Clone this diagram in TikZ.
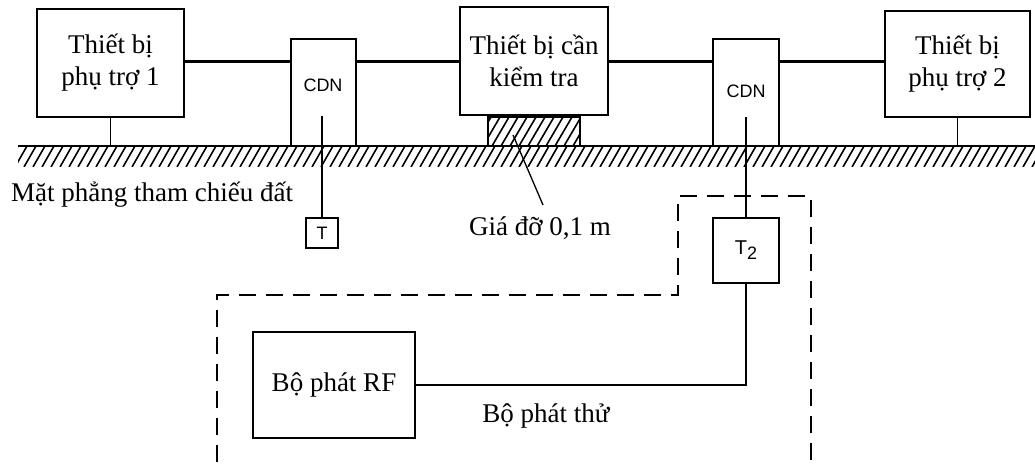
\documentclass[tikz,border=0pt]{standalone}
\usepackage{fontspec}
\setmainfont{Liberation Serif}
\newfontfamily\sansf{Liberation Sans}
\begin{document}
\begin{tikzpicture}[x=1pt,y=-1pt,
  box/.style={draw, line width=1.3pt, inner sep=0pt, align=center, font=\fontsize{27}{32}\selectfont},
  plainbox/.style={draw, line width=1.3pt, inner sep=0pt},
  sanslbl/.style={inner sep=0pt, font=\sansf\fontsize{18}{18}\selectfont},
  lbl/.style={inner sep=0pt, font=\fontsize{27}{32}\selectfont},
  wire/.style={line width=3pt},
  thin/.style={line width=1.3pt},
  hatch/.style={line width=1.6pt},
  dashline/.style={line width=1.5pt, dash pattern=on 17pt off 10pt}]
\useasboundingbox (0,0) rectangle (1035,470);
\fill[white] (0,0) rectangle (1035,470);
% ground hatching
\begin{scope}
  \clip (18,146) rectangle (1035,167);
  \foreach \i in {0,...,118} \draw[hatch] ({18+9*\i-12},167) -- ({18+9*\i},146);
\end{scope}
\coordinate (gl) at (18,146);
\coordinate (gr) at (1035,146);
\draw[line width=1.5pt] (gl) -- (gr);
% support block hatching
\begin{scope}
  \clip (488,117) rectangle (580,146);
  \foreach \i in {0,...,13} \draw[hatch] ({486+9*\i-12},146) -- ({486+9*\i+5},117);
\end{scope}
\node[plainbox, minimum width=92pt, minimum height=29pt] (sup) at (534,131.5) {};
% boxes
\node[box, minimum width=147pt, minimum height=108pt, fill=white] (aux1) at (110.5,63) {Thiết bị\\phụ trợ 1};
\node[plainbox, minimum width=65pt, minimum height=107pt] (cdn1) at (323.5,92.5) {};
\node[sanslbl] (cdn1t) at (323,85) {CDN};
\node[box, minimum width=148pt, minimum height=108pt] (dut) at (534,61) {Thiết bị cần\\kiểm tra};
\node[plainbox, minimum width=66pt, minimum height=107pt] (cdn2) at (746,92.5) {};
\node[sanslbl] (cdn2t) at (746,91) {CDN};
\node[box, minimum width=145pt, minimum height=106pt] (aux2) at (957.5,64) {Thiết bị\\phụ trợ 2};
\node[plainbox, minimum width=32pt, minimum height=30pt, font=\sansf\fontsize{18}{18}\selectfont] (t1) at (322,233) {T};
\node[plainbox, minimum width=66pt, minimum height=65pt, font=\sansf\fontsize{20}{20}\selectfont] (t2) at (746,250.5) {T\raisebox{-5pt}{\fontsize{18}{18}\selectfont 2}};
\node[box, minimum width=162pt, minimum height=106pt] (rf) at (334,385) {Bộ phát RF};
% wires
\coordinate (wy) at (0,62);
\coordinate (gy) at (0,146);
\draw[wire] (aux1.east |- wy) -- (cdn1.west |- wy);
\draw[wire] (cdn1.east |- wy) -- (dut.west |- wy);
\draw[wire] (dut.east |- wy) -- (cdn2.west |- wy);
\draw[wire] (cdn2.east |- wy) -- (aux2.west |- wy);
\draw[thin] (aux1.south) -- (aux1.south |- gy);
\draw[thin] (aux2.south) -- (aux2.south |- gy);
\coordinate (c1top) at (322,116);
\coordinate (c2top) at (746,117);
\draw[thin] (c1top) -- (t1.north);
\draw[thin] (c2top) -- (t2.north);
\draw[thin] (t2.south) |- (rf.east);
% labels
\node[lbl, anchor=west] (mp) at (11,195) {Mặt phẳng tham chiếu đất};
\node[lbl] (gia) at (540,228) {Giá đỡ 0,1 m};
\node[lbl] (bpt) at (546,416) {Bộ phát thử};
\coordinate (ls) at (513,135);
\coordinate (le) at (543,205);
\draw[thin] (ls) -- (le);
% dashed enclosure
\draw[dashline] (217,462) -- (217,295) -- (678,295) -- (678,196) -- (811,196) -- (811,462);
\end{tikzpicture}
\end{document}
